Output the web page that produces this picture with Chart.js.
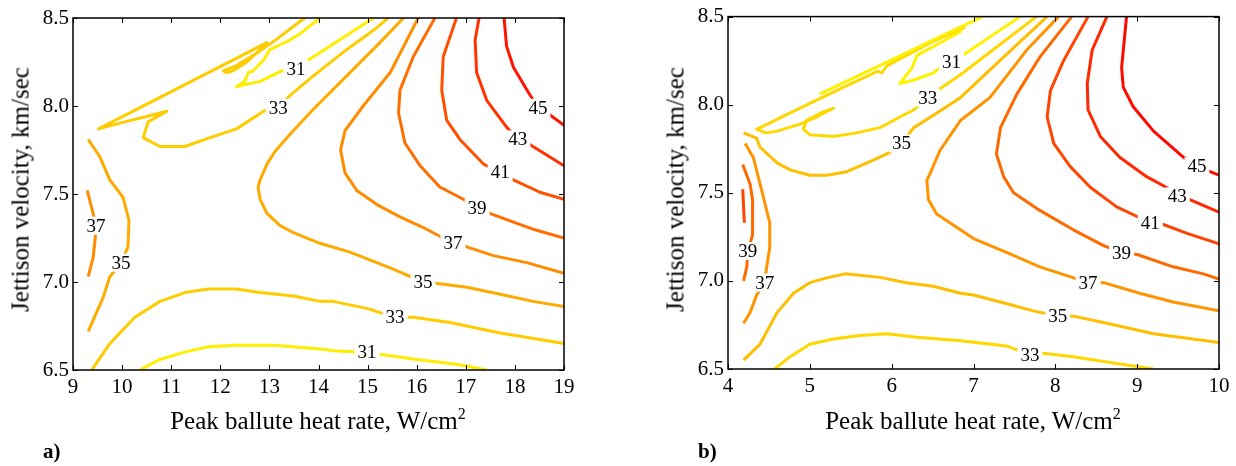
<!DOCTYPE html>
<html lang="en">
<head>
<meta charset="UTF-8">
<title>Jettison velocity vs peak ballute heat rate</title>
<style>
  body { margin: 0; background: #fff; }
  #wrap { position: relative; width: 1236px; height: 466px; font-family: "Liberation Serif", serif; color: #000; }
  canvas { position: absolute; top: 0; }
  .xt { position: absolute; top: 408px; width: 400px; text-align: center; font-size: 25px; line-height: 25px; white-space: nowrap; }
  .xt sup { font-size: 16px; line-height: 0; position: relative; top: -1px; }
  .yt { position: absolute; top: 177px; width: 320px; text-align: center; font-size: 25px; line-height: 25px; white-space: nowrap; transform: rotate(-90deg); }
  .pl { position: absolute; top: 441px; font-size: 21px; line-height: 21px; font-weight: bold; }
</style>
</head>
<body>
<div id="wrap">
  <canvas id="chartA" width="600" height="466" style="left:0px"></canvas>
  <canvas id="chartB" width="581" height="466" style="left:655px"></canvas>
  <div class="yt" style="left:-140px">Jettison velocity, km/sec</div>
  <div class="yt" style="left:515px">Jettison velocity, km/sec</div>
  <div class="xt" style="left:118px">Peak ballute heat rate, W/cm<sup>2</sup></div>
  <div class="xt" style="left:773px">Peak ballute heat rate, W/cm<sup>2</sup></div>
  <div class="pl" style="left:43px">a)</div>
  <div class="pl" style="left:698px">b)</div>
</div>

<script src="https://cdn.jsdelivr.net/npm/chart.js"></script>
<script>
// tick labels
const xTicksA = [9, 10, 11, 12, 13, 14, 15, 16, 17, 18, 19];
const xTicksB = [4, 5, 6, 7, 8, 9, 10];
const yTicks = [6.5, 7.0, 7.5, 8.0, 8.5];

// panel a) contour lines, [heat rate, velocity]
const a31top = [[14.03,8.50],[13.62,8.41],[13.42,8.375],[13.01,8.32],[12.88,8.26],[12.67,8.20],[12.57,8.19],[12.50,8.14],[12.33,8.11],[12.81,8.14],[13.25,8.20],[13.54,8.22],[13.79,8.26],[15.12,8.50]];
const a33top = [[13.73,8.50],[13.62,8.48],[13.15,8.38],[12.74,8.30],[12.33,8.23],[12.06,8.20],[12.13,8.19],[12.26,8.20],[12.54,8.25],[12.81,8.32],[12.95,8.36],[9.52,7.87],[10.05,7.91],[10.50,7.94],[10.91,7.97],[10.53,7.91],[10.43,7.82],[10.77,7.77],[11.28,7.77],[11.79,7.82],[12.33,7.87],[12.88,7.97],[13.18,7.99],[13.42,8.06],[13.89,8.17],[14.57,8.32],[15.12,8.43],[15.42,8.50]];
const a35 = [[15.73,8.50],[15.25,8.36],[14.57,8.17],[13.89,7.98],[13.42,7.84],[13.11,7.74],[12.95,7.67],[12.81,7.58],[12.77,7.54],[12.81,7.47],[12.95,7.39],[13.22,7.32],[13.49,7.28],[14.03,7.22],[14.64,7.17],[15.46,7.08],[16.13,7.00],[16.47,6.99],[17.02,6.97],[17.70,6.93],[18.37,6.89],[19.00,6.86]];
const a37 = [[16.03,8.50],[15.46,8.19],[14.91,8.00],[14.54,7.86],[14.45,7.75],[14.54,7.62],[14.78,7.52],[15.19,7.44],[15.66,7.37],[16.20,7.30],[16.74,7.22],[17.02,7.20],[17.56,7.15],[18.24,7.11],[19.00,7.05]];
const a39 = [[16.37,8.50],[15.93,8.28],[15.66,8.09],[15.63,7.96],[15.76,7.79],[16.07,7.66],[16.47,7.54],[16.95,7.47],[17.22,7.42],[17.49,7.39],[17.97,7.34],[18.37,7.30],[19.00,7.25]];
const a41 = [[16.81,8.50],[16.54,8.28],[16.51,8.09],[16.61,7.92],[16.88,7.81],[17.36,7.67],[17.70,7.625],[17.97,7.58],[18.51,7.51],[19.00,7.47]];
const a43 = [[17.27,8.50],[17.19,8.375],[17.22,8.19],[17.43,8.03],[17.83,7.88],[18.06,7.81],[18.31,7.78],[19.00,7.66]];
const a45 = [[17.78,8.50],[17.83,8.34],[17.97,8.22],[18.27,8.08],[18.47,7.99],[18.71,7.95],[19.00,7.89]];
const a35left = [[9.31,7.81],[9.55,7.71],[9.75,7.58],[10.02,7.48],[10.14,7.35],[10.12,7.20],[9.98,7.11],[9.75,7.03],[9.61,6.91],[9.31,6.72]];
const a37left = [[9.29,7.52],[9.40,7.40],[9.47,7.32],[9.45,7.24],[9.41,7.14],[9.31,7.03]];
const a33bot = [[9.38,6.50],[9.75,6.65],[10.26,6.80],[10.77,6.89],[11.28,6.94],[11.76,6.96],[12.33,6.96],[12.81,6.94],[13.49,6.92],[14.03,6.89],[14.30,6.89],[14.98,6.85],[15.56,6.80],[15.93,6.80],[16.68,6.77],[17.70,6.71],[19.00,6.65]];
const a31bot = [[10.36,6.50],[10.77,6.56],[11.25,6.60],[11.72,6.63],[12.26,6.64],[13.08,6.64],[14.03,6.62],[14.30,6.61],[14.99,6.60],[15.25,6.59],[16.00,6.56],[16.88,6.53],[17.43,6.50]];
const labelsA = [[31,13.54,8.21],[33,13.18,7.99],[37,9.47,7.32],[35,9.98,7.11],[45,18.47,7.99],[43,18.06,7.81],[41,17.70,7.625],[39,17.23,7.42],[37,16.74,7.22],[35,16.13,7.00],[33,15.56,6.80],[31,14.99,6.60]];

// panel b) contour lines
const b31a = [[5.12,8.06],[6.84,8.44],[7.11,8.50]];
const b31b = [[6.86,8.42],[6.59,8.35],[6.31,8.28],[6.25,8.21],[6.10,8.12],[6.27,8.14],[6.51,8.18],[6.59,8.21],[6.73,8.24],[6.90,8.29],[7.57,8.50]];
const b33top = [[6.90,8.44],[6.51,8.36],[5.94,8.22],[5.88,8.18],[5.83,8.19],[5.37,8.09],[4.88,7.98],[4.35,7.86],[4.47,7.84],[4.60,7.85],[4.88,7.89],[5.08,7.93],[5.29,7.98],[5.12,7.95],[4.96,7.91],[4.92,7.86],[5.00,7.83],[5.29,7.82],[5.57,7.84],[5.86,7.87],[6.14,7.94],[6.27,7.97],[6.44,8.04],[6.59,8.09],[6.84,8.17],[7.77,8.50]];
const b35 = [[4.19,7.84],[4.35,7.81],[4.39,7.76],[4.60,7.67],[4.76,7.63],[5.00,7.60],[5.21,7.60],[5.45,7.62],[5.70,7.67],[5.98,7.73],[6.12,7.78],[6.27,7.87],[6.51,7.94],[6.84,8.04],[7.39,8.28],[7.90,8.50]];
const b37 = [[8.04,8.50],[7.65,8.31],[7.20,8.04],[6.84,7.91],[6.59,7.74],[6.47,7.61],[6.43,7.57],[6.45,7.46],[6.55,7.38],[6.84,7.29],[7.00,7.24],[7.41,7.16],[7.81,7.08],[8.14,7.03],[8.40,6.99],[8.59,6.99],[9.03,6.93],[9.44,6.88],[10.00,6.83]];
const b39 = [[8.20,8.50],[7.81,8.27],[7.53,8.06],[7.33,7.87],[7.28,7.72],[7.37,7.59],[7.49,7.50],[7.81,7.40],[8.22,7.29],[8.59,7.20],[8.81,7.16],[9.00,7.15],[9.44,7.08],[9.81,7.04],[10.00,7.01]];
const b41 = [[8.40,8.50],[8.10,8.25],[7.94,8.08],[7.90,7.93],[7.98,7.78],[8.18,7.65],[8.43,7.53],[8.75,7.42],[9.16,7.33],[9.32,7.32],[9.61,7.27],[10.00,7.21]];
const b43 = [[8.63,8.50],[8.45,8.31],[8.39,8.12],[8.40,7.97],[8.55,7.82],[8.79,7.70],[9.12,7.59],[9.36,7.53],[9.49,7.48],[9.65,7.46],[10.00,7.39]];
const b45 = [[8.87,8.50],[8.81,8.21],[8.83,8.10],[8.95,7.99],[9.20,7.85],[9.57,7.70],[9.73,7.65],[9.89,7.62],[10.00,7.60]];
const b37left = [[4.21,7.78],[4.31,7.70],[4.37,7.59],[4.43,7.48],[4.51,7.33],[4.51,7.19],[4.47,7.07],[4.45,6.99],[4.35,6.92],[4.27,6.82],[4.19,6.76]];
const b39left = [[4.18,7.66],[4.27,7.55],[4.30,7.46],[4.30,7.26],[4.24,7.17],[4.23,7.08],[4.19,7.00]];
const b41left = [[4.18,7.52],[4.20,7.33]];
const b35bot = [[4.19,6.55],[4.39,6.64],[4.60,6.82],[4.80,6.93],[5.00,6.99],[5.23,7.02],[5.43,7.04],[5.86,7.02],[6.18,6.99],[6.51,6.97],[6.84,6.93],[7.00,6.92],[7.41,6.87],[7.73,6.83],[8.03,6.80],[8.22,6.80],[8.63,6.76],[9.20,6.70],[10.00,6.65]];
const b33bot = [[4.57,6.50],[4.76,6.57],[5.00,6.64],[5.29,6.67],[5.61,6.69],[5.94,6.70],[6.31,6.68],[6.84,6.66],[7.41,6.63],[7.69,6.58],[7.85,6.59],[8.22,6.57],[8.63,6.54],[9.20,6.50]];
const labelsB = [[31,6.73,8.24],[33,6.44,8.04],[35,6.12,7.78],[39,4.24,7.17],[37,4.45,6.99],[45,9.73,7.65],[43,9.49,7.48],[41,9.16,7.33],[39,8.81,7.16],[37,8.40,6.99],[35,8.03,6.80],[33,7.69,6.58]];

const colorsA = {31:'#ffee00', 33:'#ffcc00', 35:'#ffaa00', 37:'#ff8c00', 39:'#ff6e00', 41:'#ff5000', 43:'#ff3200', 45:'#ff1400'};
const colorsB = {31:'#fff200', 33:'#ffd800', 35:'#ffbe00', 37:'#ff9400', 39:'#ff6a00', 41:'#ff4600', 43:'#ff2800', 45:'#ff0a00'};

// [level, line]
const seriesA = [[31,a31top],[33,a33top],[35,a35],[37,a37],[39,a39],[41,a41],[43,a43],[45,a45],[35,a35left],[37,a37left],[33,a33bot],[31,a31bot]];
const seriesB = [[31,b31a],[31,b31b],[33,b33top],[35,b35],[37,b37],[39,b39],[41,b41],[43,b43],[45,b45],[37,b37left],[39,b39left],[41,b41left],[35,b35bot],[33,b33bot]];

const serif = '"Liberation Serif", "Times New Roman", serif';

// contour labels + box with inward ticks
const frame = {
  id: 'frame',
  afterDatasetsDraw(chart, args, opts) {
    const ctx = chart.ctx, a = chart.chartArea;
    const x = chart.scales.x, y = chart.scales.y;
    ctx.save();
    ctx.font = '19px ' + serif;
    ctx.textAlign = 'center';
    ctx.textBaseline = 'middle';
    opts.labels.forEach(([lv, lx, ly]) => {
      const px = x.getPixelForValue(lx), py = y.getPixelForValue(ly);
      const w = ctx.measureText(String(lv)).width + 6;
      ctx.fillStyle = '#fff';
      ctx.fillRect(px - w / 2, py - 9, w, 18);
      ctx.fillStyle = '#000';
      ctx.fillText(String(lv), px, py + 1);
    });
    ctx.strokeStyle = '#000';
    ctx.lineWidth = 1.5;
    ctx.strokeRect(a.left, a.top, a.right - a.left, a.bottom - a.top);
    ctx.lineWidth = 1;
    ctx.beginPath();
    x.ticks.forEach(t => {
      const p = Math.round(x.getPixelForValue(t.value)) + 0.5;
      ctx.moveTo(p, a.bottom); ctx.lineTo(p, a.bottom - 5);
      ctx.moveTo(p, a.top); ctx.lineTo(p, a.top + 5);
    });
    y.ticks.forEach(t => {
      const p = Math.round(y.getPixelForValue(t.value)) + 0.5;
      ctx.moveTo(a.left, p); ctx.lineTo(a.left + 5, p);
      ctx.moveTo(a.right, p); ctx.lineTo(a.right - 5, p);
    });
    ctx.stroke();
    ctx.restore();
  }
};

function makePanel(id, xTicks, series, labels, colors, pad, xh) {
  return new Chart(document.getElementById(id), {
    type: 'scatter',
    data: {
      datasets: series.map(([lv, pts]) => ({
        data: pts.map(([px, py]) => ({ x: px, y: py })),
        showLine: true,
        borderColor: colors[lv],
        borderWidth: 3,
        borderJoinStyle: 'round',
        pointRadius: 0,
        pointHoverRadius: 0,
        tension: 0
      }))
    },
    options: {
      responsive: false,
      animation: false,
      events: [],
      layout: { padding: pad },
      plugins: { legend: { display: false }, tooltip: { enabled: false }, frame: { labels: labels } },
      scales: {
        x: {
          type: 'linear',
          min: xTicks[0],
          max: xTicks[xTicks.length - 1],
          grid: { display: false, drawTicks: false },
          border: { display: false },
          ticks: { color: '#000', font: { family: serif, size: 21 }, padding: 5, maxRotation: 0, autoSkip: false },
          afterBuildTicks: s => { s.ticks = xTicks.map(v => ({ value: v })); },
          afterFit: s => { s.height = xh; }
        },
        y: {
          type: 'linear',
          min: yTicks[0],
          max: yTicks[yTicks.length - 1],
          grid: { display: false, drawTicks: false },
          border: { display: false },
          ticks: { color: '#000', font: { family: serif, size: 21 }, padding: 4, callback: v => v.toFixed(1) },
          afterBuildTicks: s => { s.ticks = yTicks.map(v => ({ value: v })); },
          afterFit: s => { s.width = 73; }
        }
      }
    },
    plugins: [frame]
  });
}

makePanel('chartA', xTicksA, seriesA, labelsA, colorsA, { left: 0, top: 18, right: 36, bottom: 0 }, 96);
makePanel('chartB', xTicksB, seriesB, labelsB, colorsB, { left: 0, top: 16, right: 17, bottom: 0 }, 97);
</script>
</body>
</html>
